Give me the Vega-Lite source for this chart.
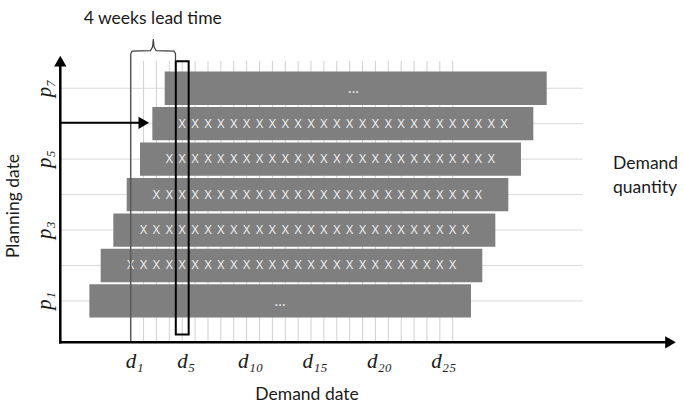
{
  "$schema": "https://vega.github.io/schema/vega-lite/v6.json",
  "width": 684,
  "height": 412,
  "autosize": {"type": "fit", "contains": "padding"},
  "padding": 0,
  "background": "white",
  "config": {"view": {"stroke": null}},
  "datasets": {
    "rows": [{"p": 1}, {"p": 2}, {"p": 3}, {"p": 4}, {"p": 5}, {"p": 6}, {"p": 7}],
    "cols": [{"u": 1}, {"u": 2}, {"u": 3}, {"u": 4}, {"u": 5}, {"u": 6}, {"u": 7}, {"u": 8}, {"u": 9}, {"u": 10}, {"u": 11}, {"u": 12}, {"u": 13}, {"u": 14}, {"u": 15}, {"u": 16}, {"u": 17}, {"u": 18}, {"u": 19}, {"u": 20}, {"u": 21}, {"u": 22}, {"u": 23}, {"u": 24}, {"u": 25}],
    "bars": [
      {"p": 1, "start": -3.21, "end": 26.42},
      {"p": 2, "start": -2.33, "end": 27.3},
      {"p": 3, "start": -1.35, "end": 28.31},
      {"p": 4, "start": -0.31, "end": 29.32},
      {"p": 5, "start": 0.72, "end": 30.3},
      {"p": 6, "start": 1.68, "end": 31.26},
      {"p": 7, "start": 2.64, "end": 32.3}
    ],
    "xs": [
      {"p": 2, "u": [0,1,2,3,4,5,6,7,8,9,10,11,12,13,14,15,16,17,18,19,20,21,22,23,24,25]},
      {"p": 3, "u": [1,2,3,4,5,6,7,8,9,10,11,12,13,14,15,16,17,18,19,20,21,22,23,24,25,26]},
      {"p": 4, "u": [2,3,4,5,6,7,8,9,10,11,12,13,14,15,16,17,18,19,20,21,22,23,24,25,26,27]},
      {"p": 5, "u": [3,4,5,6,7,8,9,10,11,12,13,14,15,16,17,18,19,20,21,22,23,24,25,26,27,28]},
      {"p": 6, "u": [4,5,6,7,8,9,10,11,12,13,14,15,16,17,18,19,20,21,22,23,24,25,26,27,28,29]}
    ],
    "dots": [{"p": 1, "u": 11.6}, {"p": 7, "u": 17.3}],
    "box": [{"u0": 3.5, "u1": 4.5, "k0": 0.053, "k1": 7.76}],
    "brace": [
      {"i": 0, "u": 0, "k": 7.973},
      {"i": 1, "u": 0.101, "k": 8.047},
      {"i": 2, "u": 1.537, "k": 8.063},
      {"i": 3, "u": 1.7, "k": 8.17},
      {"i": 4, "u": 1.755, "k": 8.385},
      {"i": 5, "u": 1.81, "k": 8.17},
      {"i": 6, "u": 1.972, "k": 8.063},
      {"i": 7, "u": 3.36, "k": 8.047},
      {"i": 8, "u": 3.478, "k": 7.973},
      {"i": 9, "u": 3.478, "k": 7.76}
    ],
    "rightTri": [{"u": 41.91, "k": -0.167}, {"u": 1.017, "k": 6.026}],
    "upTri": [{"u": -5.466, "k": 7.766}],
    "plabels": [{"p": 1, "t": "p₁"}, {"p": 3, "t": "p₃"}, {"p": 5, "t": "p₅"}, {"p": 7, "t": "p₇"}],
    "dlabels": [{"u": 0, "t": "d₁"}, {"u": 4, "t": "d₅"}, {"u": 9, "t": "d₁₀"}, {"u": 14, "t": "d₁₅"}, {"u": 19, "t": "d₂₀"}, {"u": 24, "t": "d₂₅"}]
  },
  "layer": [
    {
      "data": {"name": "rows"},
      "mark": {"type": "rule", "color": "#d9d9d9", "strokeWidth": 1},
      "encoding": {
        "x": {"datum": -5.466, "type": "quantitative", "scale": {"domain": [-10.148, 42.958], "nice": false, "zero": false}, "axis": null},
        "x2": {"datum": 35.09},
        "y": {"field": "p", "type": "quantitative", "scale": {"domain": [-1.992, 9.348], "nice": false, "zero": false}, "axis": null}
      }
    },
    {
      "data": {"name": "cols"},
      "mark": {"type": "rule", "color": "#d0d0d0", "strokeWidth": 1},
      "encoding": {
        "x": {"field": "u", "type": "quantitative", "scale": {"domain": [-10.148, 42.958], "nice": false, "zero": false}, "axis": null},
        "y": {"datum": -0.167, "type": "quantitative", "scale": {"domain": [-1.992, 9.348], "nice": false, "zero": false}, "axis": null},
        "y2": {"datum": 7.771}
      }
    },
    {
      "data": {"name": "bars"},
      "mark": {"type": "bar", "height": 33.3, "color": "#7f7f7f"},
      "encoding": {
        "x": {"field": "start", "type": "quantitative", "scale": {"domain": [-10.148, 42.958], "nice": false, "zero": false}, "axis": null},
        "x2": {"field": "end"},
        "y": {"field": "p", "type": "quantitative", "scale": {"domain": [-1.992, 9.348], "nice": false, "zero": false}, "axis": null}
      }
    },
    {
      "data": {"name": "xs"},
      "transform": [{"flatten": ["u"]}],
      "mark": {"type": "text", "text": "X", "font": "Open Sans", "fontSize": 12.5, "color": "#f2f2f2", "baseline": "middle", "align": "center"},
      "encoding": {
        "x": {"field": "u", "type": "quantitative", "scale": {"domain": [-10.148, 42.958], "nice": false, "zero": false}, "axis": null},
        "y": {"field": "p", "type": "quantitative", "scale": {"domain": [-1.992, 9.348], "nice": false, "zero": false}, "axis": null}
      }
    },
    {
      "data": {"name": "dots"},
      "mark": {"type": "text", "text": "...", "font": "Open Sans", "fontSize": 14, "color": "#f2f2f2", "baseline": "middle", "align": "center", "dy": 1},
      "encoding": {
        "x": {"field": "u", "type": "quantitative", "scale": {"domain": [-10.148, 42.958], "nice": false, "zero": false}, "axis": null},
        "y": {"field": "p", "type": "quantitative", "scale": {"domain": [-1.992, 9.348], "nice": false, "zero": false}, "axis": null}
      }
    },
    {
      "data": {"values": [{}]},
      "mark": {"type": "rule", "color": "#595959", "strokeWidth": 1.5},
      "encoding": {
        "x": {"datum": 0, "type": "quantitative", "scale": {"domain": [-10.148, 42.958], "nice": false, "zero": false}, "axis": null},
        "y": {"datum": -0.167, "type": "quantitative", "scale": {"domain": [-1.992, 9.348], "nice": false, "zero": false}, "axis": null},
        "y2": {"datum": 7.973}
      }
    },
    {
      "data": {"name": "box"},
      "mark": {"type": "rect", "fill": null, "fillOpacity": 0, "stroke": "black", "strokeWidth": 2},
      "encoding": {
        "x": {"field": "u0", "type": "quantitative", "scale": {"domain": [-10.148, 42.958], "nice": false, "zero": false}, "axis": null},
        "x2": {"field": "u1"},
        "y": {"field": "k0", "type": "quantitative", "scale": {"domain": [-1.992, 9.348], "nice": false, "zero": false}, "axis": null},
        "y2": {"field": "k1"}
      }
    },
    {
      "data": {"name": "brace"},
      "mark": {"type": "line", "color": "#404040", "strokeWidth": 1.2},
      "encoding": {
        "x": {"field": "u", "type": "quantitative", "scale": {"domain": [-10.148, 42.958], "nice": false, "zero": false}, "axis": null},
        "y": {"field": "k", "type": "quantitative", "scale": {"domain": [-1.992, 9.348], "nice": false, "zero": false}, "axis": null},
        "order": {"field": "i", "type": "quantitative"}
      }
    },
    {
      "data": {"values": [{}]},
      "mark": {"type": "rule", "color": "black", "strokeWidth": 2.5},
      "encoding": {
        "x": {"datum": -5.466, "type": "quantitative", "scale": {"domain": [-10.148, 42.958], "nice": false, "zero": false}, "axis": null},
        "y": {"datum": -0.2, "type": "quantitative", "scale": {"domain": [-1.992, 9.348], "nice": false, "zero": false}, "axis": null},
        "y2": {"datum": 7.75}
      }
    },
    {
      "data": {"values": [{}]},
      "mark": {"type": "rule", "color": "black", "strokeWidth": 2.5},
      "encoding": {
        "x": {"datum": -5.56, "type": "quantitative", "scale": {"domain": [-10.148, 42.958], "nice": false, "zero": false}, "axis": null},
        "x2": {"datum": 41.6},
        "y": {"datum": -0.167, "type": "quantitative", "scale": {"domain": [-1.992, 9.348], "nice": false, "zero": false}, "axis": null}
      }
    },
    {
      "data": {"values": [{}]},
      "mark": {"type": "rule", "color": "black", "strokeWidth": 2},
      "encoding": {
        "x": {"datum": -5.466, "type": "quantitative", "scale": {"domain": [-10.148, 42.958], "nice": false, "zero": false}, "axis": null},
        "x2": {"datum": 0.7},
        "y": {"datum": 6.026, "type": "quantitative", "scale": {"domain": [-1.992, 9.348], "nice": false, "zero": false}, "axis": null}
      }
    },
    {
      "data": {"name": "rightTri"},
      "mark": {"type": "point", "shape": "triangle-right", "filled": true, "color": "black", "opacity": 1, "size": 150},
      "encoding": {
        "x": {"field": "u", "type": "quantitative", "scale": {"domain": [-10.148, 42.958], "nice": false, "zero": false}, "axis": null},
        "y": {"field": "k", "type": "quantitative", "scale": {"domain": [-1.992, 9.348], "nice": false, "zero": false}, "axis": null}
      }
    },
    {
      "data": {"name": "upTri"},
      "mark": {"type": "point", "shape": "triangle-up", "filled": true, "color": "black", "opacity": 1, "size": 150},
      "encoding": {
        "x": {"field": "u", "type": "quantitative", "scale": {"domain": [-10.148, 42.958], "nice": false, "zero": false}, "axis": null},
        "y": {"field": "k", "type": "quantitative", "scale": {"domain": [-1.992, 9.348], "nice": false, "zero": false}, "axis": null}
      }
    },
    {
      "data": {"name": "plabels"},
      "mark": {"type": "text", "font": "Liberation Serif", "fontStyle": "italic", "fontSize": 21, "color": "#1a1a1a", "angle": 270, "align": "center", "baseline": "middle"},
      "encoding": {
        "x": {"datum": -6.654, "type": "quantitative", "scale": {"domain": [-10.148, 42.958], "nice": false, "zero": false}, "axis": null},
        "y": {"field": "p", "type": "quantitative", "scale": {"domain": [-1.992, 9.348], "nice": false, "zero": false}, "axis": null},
        "text": {"field": "t"}
      }
    },
    {
      "data": {"name": "dlabels"},
      "mark": {"type": "text", "font": "Liberation Serif", "fontStyle": "italic", "fontSize": 21, "color": "#1a1a1a", "align": "center", "baseline": "middle", "dx": 4},
      "encoding": {
        "x": {"field": "u", "type": "quantitative", "scale": {"domain": [-10.148, 42.958], "nice": false, "zero": false}, "axis": null},
        "y": {"datum": -0.72, "type": "quantitative", "scale": {"domain": [-1.992, 9.348], "nice": false, "zero": false}, "axis": null},
        "text": {"field": "t"}
      }
    },
    {
      "data": {"values": [{}]},
      "mark": {"type": "text", "text": "4 weeks lead time", "font": "Lato", "fontSize": 17.5, "color": "#1a1a1a", "align": "center", "baseline": "middle"},
      "encoding": {
        "x": {"datum": 1.71, "type": "quantitative", "scale": {"domain": [-10.148, 42.958], "nice": false, "zero": false}, "axis": null},
        "y": {"datum": 8.95, "type": "quantitative", "scale": {"domain": [-1.992, 9.348], "nice": false, "zero": false}, "axis": null}
      }
    },
    {
      "data": {"values": [{}]},
      "mark": {"type": "text", "text": "Planning date", "font": "Lato", "fontSize": 17.5, "color": "#1a1a1a", "align": "center", "baseline": "middle", "angle": 270},
      "encoding": {
        "x": {"datum": -9.06, "type": "quantitative", "scale": {"domain": [-10.148, 42.958], "nice": false, "zero": false}, "axis": null},
        "y": {"datum": 3.678, "type": "quantitative", "scale": {"domain": [-1.992, 9.348], "nice": false, "zero": false}, "axis": null}
      }
    },
    {
      "data": {"values": [{}]},
      "mark": {"type": "text", "text": "Demand date", "font": "Lato", "fontSize": 17.5, "color": "#1a1a1a", "align": "center", "baseline": "middle"},
      "encoding": {
        "x": {"datum": 13.69, "type": "quantitative", "scale": {"domain": [-10.148, 42.958], "nice": false, "zero": false}, "axis": null},
        "y": {"datum": -1.662, "type": "quantitative", "scale": {"domain": [-1.992, 9.348], "nice": false, "zero": false}, "axis": null}
      }
    },
    {
      "data": {"values": [{}]},
      "mark": {"type": "text", "text": ["Demand", "quantity"], "lineHeight": 24, "font": "Lato", "fontSize": 17.5, "color": "#1a1a1a", "align": "left", "baseline": "middle"},
      "encoding": {
        "x": {"datum": 37.45, "type": "quantitative", "scale": {"domain": [-10.148, 42.958], "nice": false, "zero": false}, "axis": null},
        "y": {"datum": 4.862, "type": "quantitative", "scale": {"domain": [-1.992, 9.348], "nice": false, "zero": false}, "axis": null}
      }
    }
  ]
}
